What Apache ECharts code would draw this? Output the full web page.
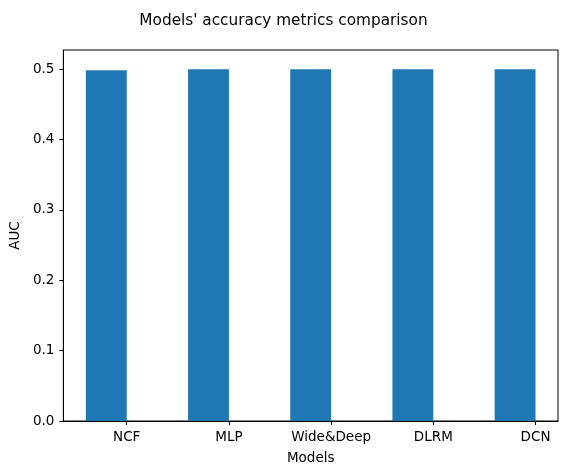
<!DOCTYPE html>
<html>
<head>
<meta charset="utf-8">
<script src="https://cdn.jsdelivr.net/npm/echarts@6/dist/echarts.min.js"></script>
<style>html,body{margin:0;padding:0;background:#fff}#c{width:567px;height:474px}</style>
</head>
<body>
<div id="c"></div>
<script>
const categories = ['NCF', 'MLP', 'Wide&Deep', 'DLRM', 'DCN'];
const aucValues = [0.4985, 0.5, 0.5, 0.5, 0.5];
const yTicks = [0, 0.1, 0.2, 0.3, 0.4, 0.5];

const BAR_W = 0.4;
const FONT = 'DejaVu Sans';
const chart = echarts.init(document.getElementById('c'), null, {renderer: 'canvas'});
const data = aucValues.map((v, i) => [i, v]);
chart.setOption({
  animation: false,
  backgroundColor: '#fff',
  title: {
    text: "Models' accuracy metrics comparison",
    left: 'center', top: 9,
    textStyle: {fontFamily: FONT, fontSize: 15.3, fontWeight: 'normal', color: '#000'}
  },
  grid: {left: 61.5, right: 9, top: 50, bottom: 53, show: true, borderColor: '#000', borderWidth: 1, backgroundColor: 'transparent'},
  xAxis: {
    type: 'value', min: -0.62, max: 4.22,
    name: 'Models', nameLocation: 'middle', nameGap: 30,
    nameTextStyle: {fontFamily: FONT, fontSize: 13.5, color: '#000'},
    axisLine: {show: true, onZero: false, lineStyle: {color: '#000'}},
    axisTick: {show: true, length: 4, lineStyle: {color: '#000'}, customValues: categories.map((c, i) => i)},
    axisLabel: {fontFamily: FONT, fontSize: 13.5, color: '#000', margin: 9,
      customValues: categories.map((c, i) => i),
      formatter: v => categories[Math.round(v)] || ''},
    splitLine: {show: false}
  },
  yAxis: {
    type: 'value', min: 0, max: 0.5274,
    name: 'AUC', nameLocation: 'middle', nameRotate: 90, nameGap: 38,
    nameTextStyle: {fontFamily: FONT, fontSize: 13.5, color: '#000'},
    axisLine: {show: true, onZero: false, lineStyle: {color: '#000'}},
    axisTick: {show: true, length: 4, lineStyle: {color: '#000'}, customValues: yTicks},
    axisLabel: {fontFamily: FONT, fontSize: 13.5, color: '#000', margin: 9,
      customValues: yTicks, formatter: v => v.toFixed(1)},
    splitLine: {show: false}
  },
  series: [{
    type: 'custom',
    data: data,
    renderItem: function (params, api) {
      const base = api.coord([api.value(0) - BAR_W, 0]);
      const top = api.coord([api.value(0), api.value(1)]);
      return {
        type: 'rect',
        shape: {x: base[0], y: top[1], width: top[0] - base[0], height: base[1] - top[1]},
        style: {fill: '#1f77b4', stroke: null, lineWidth: 0}
      };
    },
    encode: {x: 0, y: 1}
  }]
});
</script>
</body>
</html>
